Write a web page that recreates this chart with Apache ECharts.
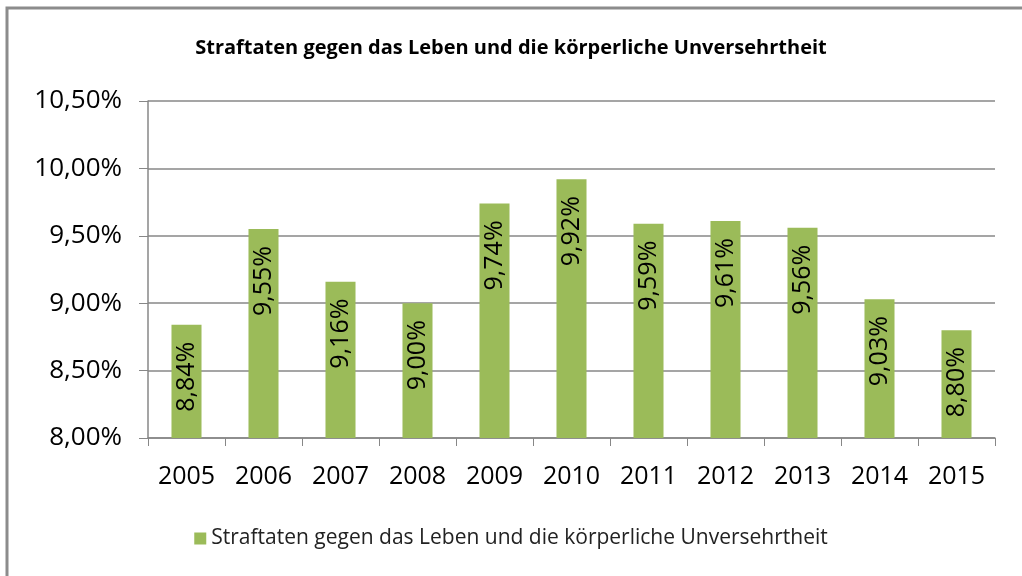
<!DOCTYPE html>
<html>
<head>
<meta charset="utf-8">
<script src="https://cdn.jsdelivr.net/npm/echarts@6/dist/echarts.min.js"></script>
<style>
  html, body { margin: 0; padding: 0; background: #fff; }
  #main { width: 1022px; height: 576px; }
</style>
</head>
<body>
<div id="main"></div>
<script>
// data
const years = ['2005', '2006', '2007', '2008', '2009', '2010', '2011', '2012', '2013', '2014', '2015'];
const shares = [8.84, 9.55, 9.16, 9.00, 9.74, 9.92, 9.59, 9.61, 9.56, 9.03, 8.80];
const seriesName = 'Straftaten gegen das Leben und die körperliche Unversehrtheit';

const fmt = v => v.toFixed(2).replace('.', ',') + '%';

const chartDom = document.getElementById('main');
const myChart = echarts.init(chartDom);

const option = {
    animation: false,
    textStyle: { fontFamily: 'Open Sans' },
    graphic: [{
        type: 'rect',
        shape: { x: 7, y: 8, width: 1040, height: 600 },
        style: { fill: 'none', stroke: '#8c8c8c', lineWidth: 3 },
        silent: true
    }],
    title: {
        text: seriesName,
        left: 'center',
        top: 33,
        textStyle: { fontSize: 20, fontWeight: 'bold', color: '#000', fontFamily: 'Open Sans' }
    },
    grid: { left: 148, right: 27, top: 101, bottom: 138 },
    legend: {
        bottom: 22,
        left: 'center',
        itemWidth: 12,
        itemHeight: 12,
        itemGap: 8,
        icon: 'rect',
        textStyle: { fontSize: 21, color: '#222' },
        data: [seriesName]
    },
    xAxis: {
        type: 'category',
        data: years,
        axisLine: { lineStyle: { color: '#878787', width: 1.5 } },
        axisTick: { show: true, length: 8, lineStyle: { color: '#878787' } },
        axisLabel: { fontSize: 25, color: '#000', margin: 26 }
    },
    yAxis: {
        type: 'value',
        min: 8,
        max: 10.5,
        interval: 0.5,
        axisLine: { show: true, lineStyle: { color: '#878787', width: 1.5 } },
        axisTick: { show: true, length: 9, lineStyle: { color: '#878787' } },
        splitLine: { lineStyle: { color: '#878787', width: 1.5 } },
        axisLabel: { fontSize: 26, color: '#000', margin: 26, formatter: fmt }
    },
    series: [{
        name: seriesName,
        type: 'bar',
        data: shares,
        barWidth: '39%',
        itemStyle: { color: '#9bbb59' },
        label: {
            show: true,
            position: 'insideTop',
            distance: 17,
            rotate: 90,
            align: 'right',
            verticalAlign: 'middle',
            fontSize: 25,
            color: '#000',
            formatter: p => fmt(p.value)
        }
    }]
};

option && myChart.setOption(option);
</script>
</body>
</html>
